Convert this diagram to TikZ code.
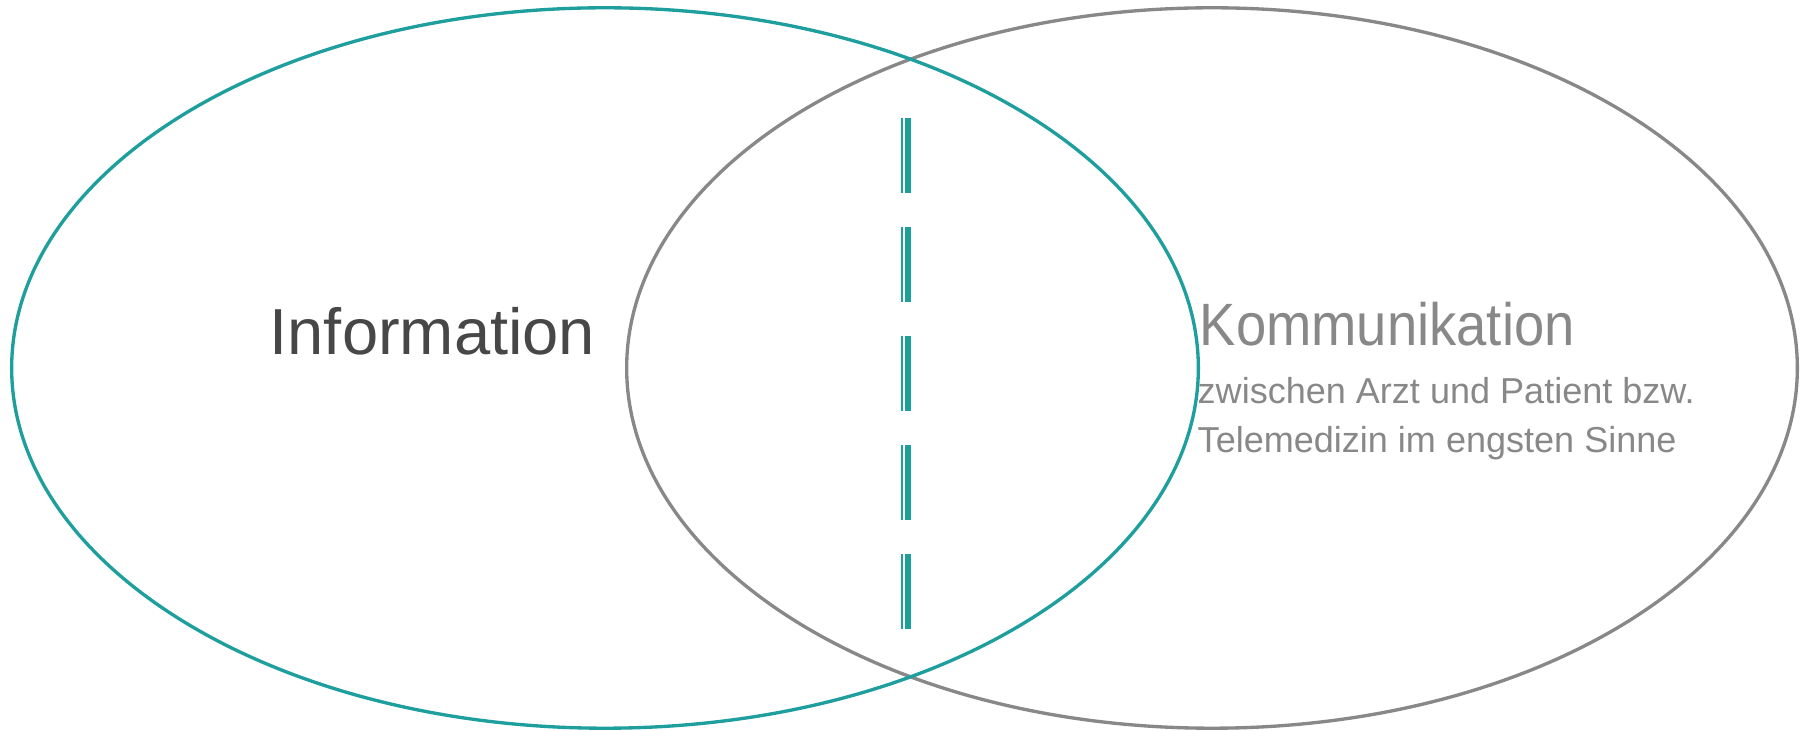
\documentclass[tikz,border=0pt]{standalone}
\usepackage{fontspec}
\setmainfont{Liberation Sans}
\usepackage{graphicx}
\usetikzlibrary{shapes.geometric}

\definecolor{tealring}{RGB}{31,158,158}
\definecolor{grayring}{RGB}{136,136,136}
\definecolor{infotext}{RGB}{71,71,71}

\tikzset{
  ring/.style={ellipse, draw, line width=0.95pt, inner sep=0pt, minimum height=7.2cm},
  label text/.style={anchor=base west, inner sep=0pt}
}

\begin{document}
\begin{tikzpicture}[x=0.01cm, y=-0.01cm]
    \useasboundingbox (0,0) rectangle (1800,731);

    % Rings
    \node[ring, grayring, minimum width=11.7cm] (kom) at (1212,368) {};
    \node[ring, tealring, minimum width=11.86cm] (info) at (605,368) {};

    % Dashed divider
    \coordinate (dashtop) at (902,118);
    \coordinate (dashbot) at (902,629);
    \draw[tealring, line width=0.74pt, dash pattern=on 0.75cm off 0.34cm] (dashtop) -- (dashbot);
    \draw[tealring, line width=1.7pt, dash pattern=on 0.75cm off 0.34cm] ([xshift=0.06cm]dashtop) -- ([xshift=0.06cm]dashbot);

    % Labels
    \node[label text, infotext, font=\fontsize{18.5}{22}\selectfont] (infolabel) at (269,355) {Information};
    \node[label text, grayring, font=\fontsize{17}{20}\selectfont] (komlabel) at (1199,346) {\scalebox{0.91}[1]{Kommunikation}};
    \node[label text, grayring, align=left, font=\fontsize{10.25}{14.2}\selectfont] (komdetail) at (1197,453)
        {zwischen Arzt und Patient bzw.\\Telemedizin im engsten Sinne};

\end{tikzpicture}
\end{document}
